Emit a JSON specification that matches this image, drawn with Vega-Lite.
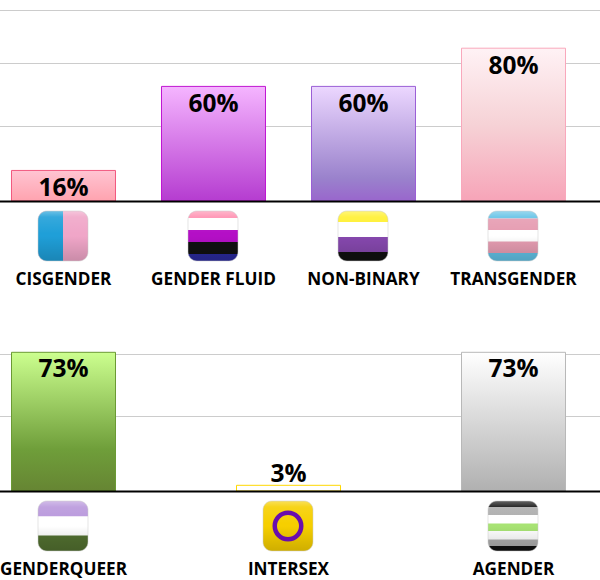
{"$schema":"https://vega.github.io/schema/vega-lite/v6.json","padding":{"left":-1,"top":10,"right":0,"bottom":10},"background":"white","spacing":13,"config":{"view":{"stroke":null},"axis":{"title":null}},"datasets":{"bars":[{"gender":"CISGENDER","value":0.16},{"gender":"GENDER FLUID","value":0.6},{"gender":"NON-BINARY","value":0.6},{"gender":"TRANSGENDER","value":0.8},{"gender":"GENDERQUEER","value":0.73},{"gender":"INTERSEX","value":0.03},{"gender":"AGENDER","value":0.73}],"stripes":[{"gender":"CISGENDER","stripe":"cis pink","order":1,"share":1},{"gender":"GENDER FLUID","stripe":"fluid pink","order":1,"share":0.14},{"gender":"GENDER FLUID","stripe":"white","order":2,"share":0.24},{"gender":"GENDER FLUID","stripe":"magenta","order":3,"share":0.24},{"gender":"GENDER FLUID","stripe":"black","order":4,"share":0.24},{"gender":"GENDER FLUID","stripe":"navy","order":5,"share":0.14},{"gender":"NON-BINARY","stripe":"yellow","order":1,"share":0.22},{"gender":"NON-BINARY","stripe":"white","order":2,"share":0.3},{"gender":"NON-BINARY","stripe":"purple","order":3,"share":0.3},{"gender":"NON-BINARY","stripe":"black","order":4,"share":0.18},{"gender":"TRANSGENDER","stripe":"sky","order":1,"share":0.15},{"gender":"TRANSGENDER","stripe":"trans pink","order":2,"share":0.23},{"gender":"TRANSGENDER","stripe":"white","order":3,"share":0.23},{"gender":"TRANSGENDER","stripe":"trans pink","order":4,"share":0.23},{"gender":"TRANSGENDER","stripe":"sky","order":5,"share":0.16},{"gender":"GENDERQUEER","stripe":"lavender","order":1,"share":0.31},{"gender":"GENDERQUEER","stripe":"white","order":2,"share":0.38},{"gender":"GENDERQUEER","stripe":"forest","order":3,"share":0.31},{"gender":"INTERSEX","stripe":"gold","order":1,"share":1},{"gender":"AGENDER","stripe":"black","order":1,"share":0.12},{"gender":"AGENDER","stripe":"gray","order":2,"share":0.16},{"gender":"AGENDER","stripe":"white","order":3,"share":0.17},{"gender":"AGENDER","stripe":"lime","order":4,"share":0.15},{"gender":"AGENDER","stripe":"white","order":5,"share":0.17},{"gender":"AGENDER","stripe":"gray","order":6,"share":0.13},{"gender":"AGENDER","stripe":"black","order":7,"share":0.1}]},"vconcat":[{"spacing":8,"vconcat":[{"width":600,"height":191,"data":{"name":"bars"},"transform":[{"filter":"indexof(['CISGENDER','GENDER FLUID','NON-BINARY','TRANSGENDER'],datum.gender)>=0"}],"encoding":{"x":{"field":"gender","type":"nominal","scale":{"domain":["CISGENDER","GENDER FLUID","NON-BINARY","TRANSGENDER"],"range":[-62.5,637.5],"paddingInner":0,"paddingOuter":0.33333},"axis":{"labels":false,"ticks":false,"domainColor":"#000","domainWidth":2,"zindex":1}},"y":{"field":"value","type":"quantitative","stack":null,"scale":{"domain":[0,1]},"axis":{"values":[0.394,0.723,1],"labels":false,"ticks":false,"domain":false,"grid":true,"gridColor":"#cccccc","gridWidth":1}}},"layer":[{"transform":[{"filter":"datum.gender=='CISGENDER'"}],"mark":{"type":"bar","width":104,"stroke":"#f2587f","strokeWidth":1,"fill":{"x1":0,"y1":0,"x2":0,"y2":1,"gradient":"linear","stops":[{"offset":0,"color":"#ffc4d2"},{"offset":1,"color":"#ffa3af"}]}}},{"transform":[{"filter":"datum.gender=='GENDER FLUID'"}],"mark":{"type":"bar","width":104,"stroke":"#c015d2","strokeWidth":1,"fill":{"x1":0,"y1":0,"x2":0,"y2":1,"gradient":"linear","stops":[{"offset":0,"color":"#f5b5ff"},{"offset":1,"color":"#b53cd0"}]}}},{"transform":[{"filter":"datum.gender=='NON-BINARY'"}],"mark":{"type":"bar","width":104,"stroke":"#9b5fd6","strokeWidth":1,"fill":{"x1":0,"y1":0,"x2":0,"y2":1,"gradient":"linear","stops":[{"offset":0,"color":"#ecd7ff"},{"offset":0.8,"color":"#9a82cc"},{"offset":1,"color":"#9966cc"}]}}},{"transform":[{"filter":"datum.gender=='TRANSGENDER'"}],"mark":{"type":"bar","width":104,"stroke":"#f9a8bc","strokeWidth":1,"fill":{"x1":0,"y1":0,"x2":0,"y2":1,"gradient":"linear","stops":[{"offset":0,"color":"#fff2f5"},{"offset":0.5,"color":"#f6d2d6"},{"offset":1,"color":"#f7a4b8"}]}}},{"mark":{"type":"text","font":"Open Sans","fontWeight":700,"fontSize":24.5,"color":"#000","baseline":"middle","dy":18.5},"encoding":{"text":{"field":"value","type":"quantitative","format":".0%"}}}]},{"width":600,"height":50,"data":{"name":"stripes"},"transform":[{"filter":"indexof(['CISGENDER','GENDER FLUID','NON-BINARY','TRANSGENDER'],datum.gender)>=0"}],"encoding":{"x":{"field":"gender","type":"nominal","scale":{"domain":["CISGENDER","GENDER FLUID","NON-BINARY","TRANSGENDER"],"range":[-62.5,637.5],"paddingInner":0,"paddingOuter":0.33333},"axis":{"labelAngle":0,"labelFont":"Open Sans","labelFontWeight":700,"labelFontSize":17.2,"labelColor":"#000","labelPadding":9,"labelOverlap":false,"labelFlush":false,"ticks":false,"domain":false,"orient":"bottom"}}},"layer":[{"mark":{"type":"bar","width":50,"xOffset":-0.5,"cornerRadius":9},"encoding":{"y":{"field":"share","type":"quantitative","stack":true,"scale":{"domain":[0,1],"reverse":true},"axis":null},"order":{"field":"order","type":"ordinal"},"color":{"field":"stripe","type":"nominal","legend":null,"scale":{"domain":["cis pink","cis blue","fluid pink","white","magenta","black","navy","yellow","purple","sky","trans pink","lavender","forest","gold","gray","lime"],"range":["#f0a6c8","#1f9fd8","#ff8fb0","#ffffff","#b40fc6","#101010","#2a2a9c","#fff030","#8648ae","#62c2e6","#e69db2","#b998dc","#527030","#f6cf00","#aeaeae","#a8e374"]}}}},{"transform":[{"filter":"datum.gender=='CISGENDER'"}],"mark":{"type":"bar","width":25,"xOffset":-13,"color":"#1f9fd8","cornerRadiusTopLeft":9,"cornerRadiusBottomLeft":9},"encoding":{"y":{"datum":0,"type":"quantitative"},"y2":{"datum":1}}},{"transform":[{"aggregate":[{"op":"sum","field":"share","as":"total"}],"groupby":["gender"]}],"mark":{"type":"bar","width":50,"xOffset":-0.5,"cornerRadius":9,"stroke":"#cccccc","strokeOpacity":0.5,"strokeWidth":1,"fill":{"x1":0,"y1":0,"x2":0,"y2":1,"gradient":"linear","stops":[{"offset":0,"color":"rgba(255,255,255,0.35)"},{"offset":0.12,"color":"rgba(255,255,255,0.1)"},{"offset":0.45,"color":"rgba(255,255,255,0)"},{"offset":0.5,"color":"rgba(0,0,0,0)"},{"offset":1,"color":"rgba(0,0,0,0.16)"}]}},"encoding":{"y":{"datum":0,"type":"quantitative"},"y2":{"datum":1}}}]}]},{"spacing":8,"vconcat":[{"width":600,"height":190,"data":{"name":"bars"},"transform":[{"filter":"indexof(['GENDERQUEER','INTERSEX','AGENDER'],datum.gender)>=0"}],"encoding":{"x":{"field":"gender","type":"nominal","scale":{"domain":["GENDERQUEER","INTERSEX","AGENDER"],"range":[-50,625],"paddingInner":0,"paddingOuter":0},"axis":{"labels":false,"ticks":false,"domainColor":"#000","domainWidth":2,"zindex":1}},"y":{"field":"value","type":"quantitative","stack":null,"scale":{"domain":[0,1]},"axis":{"values":[0.394,0.723],"labels":false,"ticks":false,"domain":false,"grid":true,"gridColor":"#cccccc","gridWidth":1}}},"layer":[{"transform":[{"filter":"datum.gender=='GENDERQUEER'"}],"mark":{"type":"bar","width":104,"stroke":"#6b9a34","strokeWidth":1,"fill":{"x1":0,"y1":0,"x2":0,"y2":1,"gradient":"linear","stops":[{"offset":0,"color":"#ccff8f"},{"offset":0.7,"color":"#6f9e3a"},{"offset":1,"color":"#668533"}]}}},{"transform":[{"filter":"datum.gender=='INTERSEX'"}],"mark":{"type":"bar","width":104,"stroke":"#ffd800","strokeWidth":1,"fill":"#ffffff"}},{"transform":[{"filter":"datum.gender=='AGENDER'"}],"mark":{"type":"bar","width":104,"stroke":"#b8b8b8","strokeWidth":1,"fill":{"x1":0,"y1":0,"x2":0,"y2":1,"gradient":"linear","stops":[{"offset":0,"color":"#ffffff"},{"offset":1,"color":"#b0b0b0"}]}}},{"transform":[{"filter":"datum.value>=0.1"}],"mark":{"type":"text","font":"Open Sans","fontWeight":700,"fontSize":24.5,"color":"#000","baseline":"middle","dy":17.5},"encoding":{"text":{"field":"value","type":"quantitative","format":".0%"}}},{"transform":[{"filter":"datum.value<0.1"}],"mark":{"type":"text","font":"Open Sans","fontWeight":700,"fontSize":24.5,"color":"#000","baseline":"middle","dy":-10.5},"encoding":{"text":{"field":"value","type":"quantitative","format":".0%"}}}]},{"width":600,"height":50,"data":{"name":"stripes"},"transform":[{"filter":"indexof(['GENDERQUEER','INTERSEX','AGENDER'],datum.gender)>=0"}],"encoding":{"x":{"field":"gender","type":"nominal","scale":{"domain":["GENDERQUEER","INTERSEX","AGENDER"],"range":[-50,625],"paddingInner":0,"paddingOuter":0},"axis":{"labelAngle":0,"labelFont":"Open Sans","labelFontWeight":700,"labelFontSize":17.2,"labelColor":"#000","labelPadding":9,"labelOverlap":false,"labelFlush":false,"ticks":false,"domain":false,"orient":"bottom"}}},"layer":[{"mark":{"type":"bar","width":50,"xOffset":-0.5,"cornerRadius":9},"encoding":{"y":{"field":"share","type":"quantitative","stack":true,"scale":{"domain":[0,1],"reverse":true},"axis":null},"order":{"field":"order","type":"ordinal"},"color":{"field":"stripe","type":"nominal","legend":null,"scale":{"domain":["cis pink","cis blue","fluid pink","white","magenta","black","navy","yellow","purple","sky","trans pink","lavender","forest","gold","gray","lime"],"range":["#f0a6c8","#1f9fd8","#ff8fb0","#ffffff","#b40fc6","#101010","#2a2a9c","#fff030","#8648ae","#62c2e6","#e69db2","#b998dc","#527030","#f6cf00","#aeaeae","#a8e374"]}}}},{"transform":[{"aggregate":[{"op":"sum","field":"share","as":"total"}],"groupby":["gender"]}],"mark":{"type":"bar","width":50,"xOffset":-0.5,"cornerRadius":9,"stroke":"#cccccc","strokeOpacity":0.5,"strokeWidth":1,"fill":{"x1":0,"y1":0,"x2":0,"y2":1,"gradient":"linear","stops":[{"offset":0,"color":"rgba(255,255,255,0.35)"},{"offset":0.12,"color":"rgba(255,255,255,0.1)"},{"offset":0.45,"color":"rgba(255,255,255,0)"},{"offset":0.5,"color":"rgba(0,0,0,0)"},{"offset":1,"color":"rgba(0,0,0,0.16)"}]}},"encoding":{"y":{"datum":0,"type":"quantitative"},"y2":{"datum":1}}},{"transform":[{"filter":"datum.gender=='INTERSEX'"},{"aggregate":[{"op":"sum","field":"share","as":"total"}],"groupby":["gender"]}],"mark":{"type":"point","filled":false,"shape":"circle","size":702,"stroke":"#6a0dad","strokeWidth":4.5,"opacity":1,"xOffset":-0.5},"encoding":{"y":{"datum":0.5,"type":"quantitative"}}}]}]}]}
